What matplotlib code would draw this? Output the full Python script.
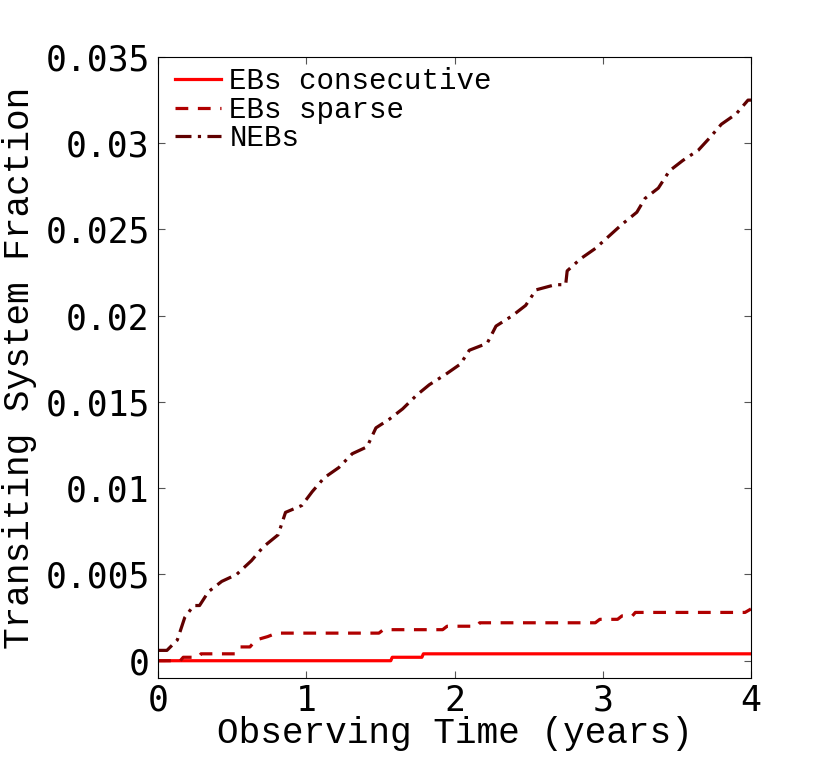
import matplotlib
matplotlib.use("Agg")
import matplotlib.pyplot as plt

# EBs consecutive (step curve)
cons_t = [0.0, 1.57, 1.58, 1.78, 1.79, 4.0]
cons_f = [0.0, 0.0, 0.0002, 0.0002, 0.0004, 0.0004]

# EBs sparse
sparse_t = [0.0, 0.15, 0.17, 0.27, 0.29, 0.52, 0.55, 0.62, 0.66, 0.74, 0.80,
            0.97, 1.49, 1.52, 1.92, 1.95, 2.15, 2.17, 2.95, 2.98, 3.10, 3.13,
            3.20, 3.22, 3.96, 4.0]
sparse_f = [0.0, 0.0, 0.0002, 0.0002, 0.0004, 0.0004, 0.0008, 0.0008, 0.0012,
            0.0014, 0.0016, 0.0016, 0.0016, 0.0018, 0.0018, 0.002, 0.002,
            0.0022, 0.0022, 0.0024, 0.0024, 0.0026, 0.0026, 0.0028, 0.0028,
            0.003]

# NEBs
neb_t = [0.0, 0.06, 0.13, 0.18, 0.24, 0.28, 0.34, 0.43, 0.53, 0.63, 0.71,
         0.81, 0.86, 0.97, 1.04, 1.12, 1.22, 1.31, 1.41, 1.47, 1.56, 1.65,
         1.745, 1.83, 1.94, 2.04, 2.10, 2.22, 2.28, 2.39, 2.48, 2.55, 2.68,
         2.75, 2.76, 2.85, 2.95, 3.04, 3.13, 3.23, 3.285, 3.375, 3.45, 3.54,
         3.645, 3.72, 3.80, 3.90, 3.98, 4.0]
neb_f = [0.0006, 0.0006, 0.0012, 0.0025, 0.0032, 0.0032, 0.004, 0.0046,
         0.005, 0.0058, 0.0066, 0.0073, 0.0086, 0.009, 0.0098, 0.0106, 0.0112,
         0.012, 0.0124, 0.0135, 0.014, 0.0146, 0.0154, 0.016, 0.0166, 0.0172,
         0.018, 0.0184, 0.0194, 0.020, 0.0206, 0.0215, 0.0218, 0.0218, 0.0226,
         0.0233, 0.0239, 0.0246, 0.0253, 0.026, 0.0268, 0.0274, 0.0284, 0.029,
         0.0296, 0.0303, 0.0311, 0.0317, 0.0325, 0.0325]

x_ticks = [0, 1, 2, 3, 4]
y_ticks = [0, 0.005, 0.01, 0.015, 0.02, 0.025, 0.03, 0.035]
y_tick_labels = ["0", "0.005", "0.01", "0.015", "0.02", "0.025", "0.03", "0.035"]

LABEL_FONT = "Liberation Mono"
TICK_FONT = "DejaVu Sans Mono"

fig = plt.figure(figsize=(8.30, 7.64), dpi=100)
ax = fig.add_axes([0.1904, 0.1126, 0.7144, 0.8128])

ax.plot(cons_t, cons_f, color="#ff0000", linewidth=2.3, label="EBs consecutive")
ax.plot(sparse_t, sparse_f, color="#b00000", linewidth=2.3, linestyle="--",
        dashes=(4, 3), label="EBs sparse")
ax.plot(neb_t, neb_f, color="#600000", linewidth=2.3, linestyle="-.",
        dashes=(5, 2, 1, 2), label="NEBs")

ax.set_xlim(0, 4)
ax.set_ylim(-0.001, 0.035)
ax.set_xticks(x_ticks)
ax.set_yticks(y_ticks)
ax.set_yticklabels(y_tick_labels)
ax.tick_params(direction="in", length=5, width=0.8, top=True, right=True,
               color="#555555", labelsize=25, pad=4)
ax.tick_params(axis="y", pad=6)
for lab in ax.get_xticklabels() + ax.get_yticklabels():
    lab.set_family(TICK_FONT)

ax.set_xlabel("Observing Time (years)", family=LABEL_FONT, fontsize=26,
              labelpad=-1)
ax.set_ylabel("Transiting System Fraction", family=LABEL_FONT, fontsize=26,
              labelpad=6)

leg = ax.legend(loc="upper left", frameon=False, prop={"family": LABEL_FONT,
                "size": 21}, handlelength=1.55, handletextpad=0.3,
                labelspacing=0.02, borderaxespad=0.1, borderpad=0.25)
# keep legend x position while lifting it a bit
leg.set_bbox_to_anchor((0.012, 1.0), transform=ax.transAxes)

fig.savefig("out.png", dpi=100)
